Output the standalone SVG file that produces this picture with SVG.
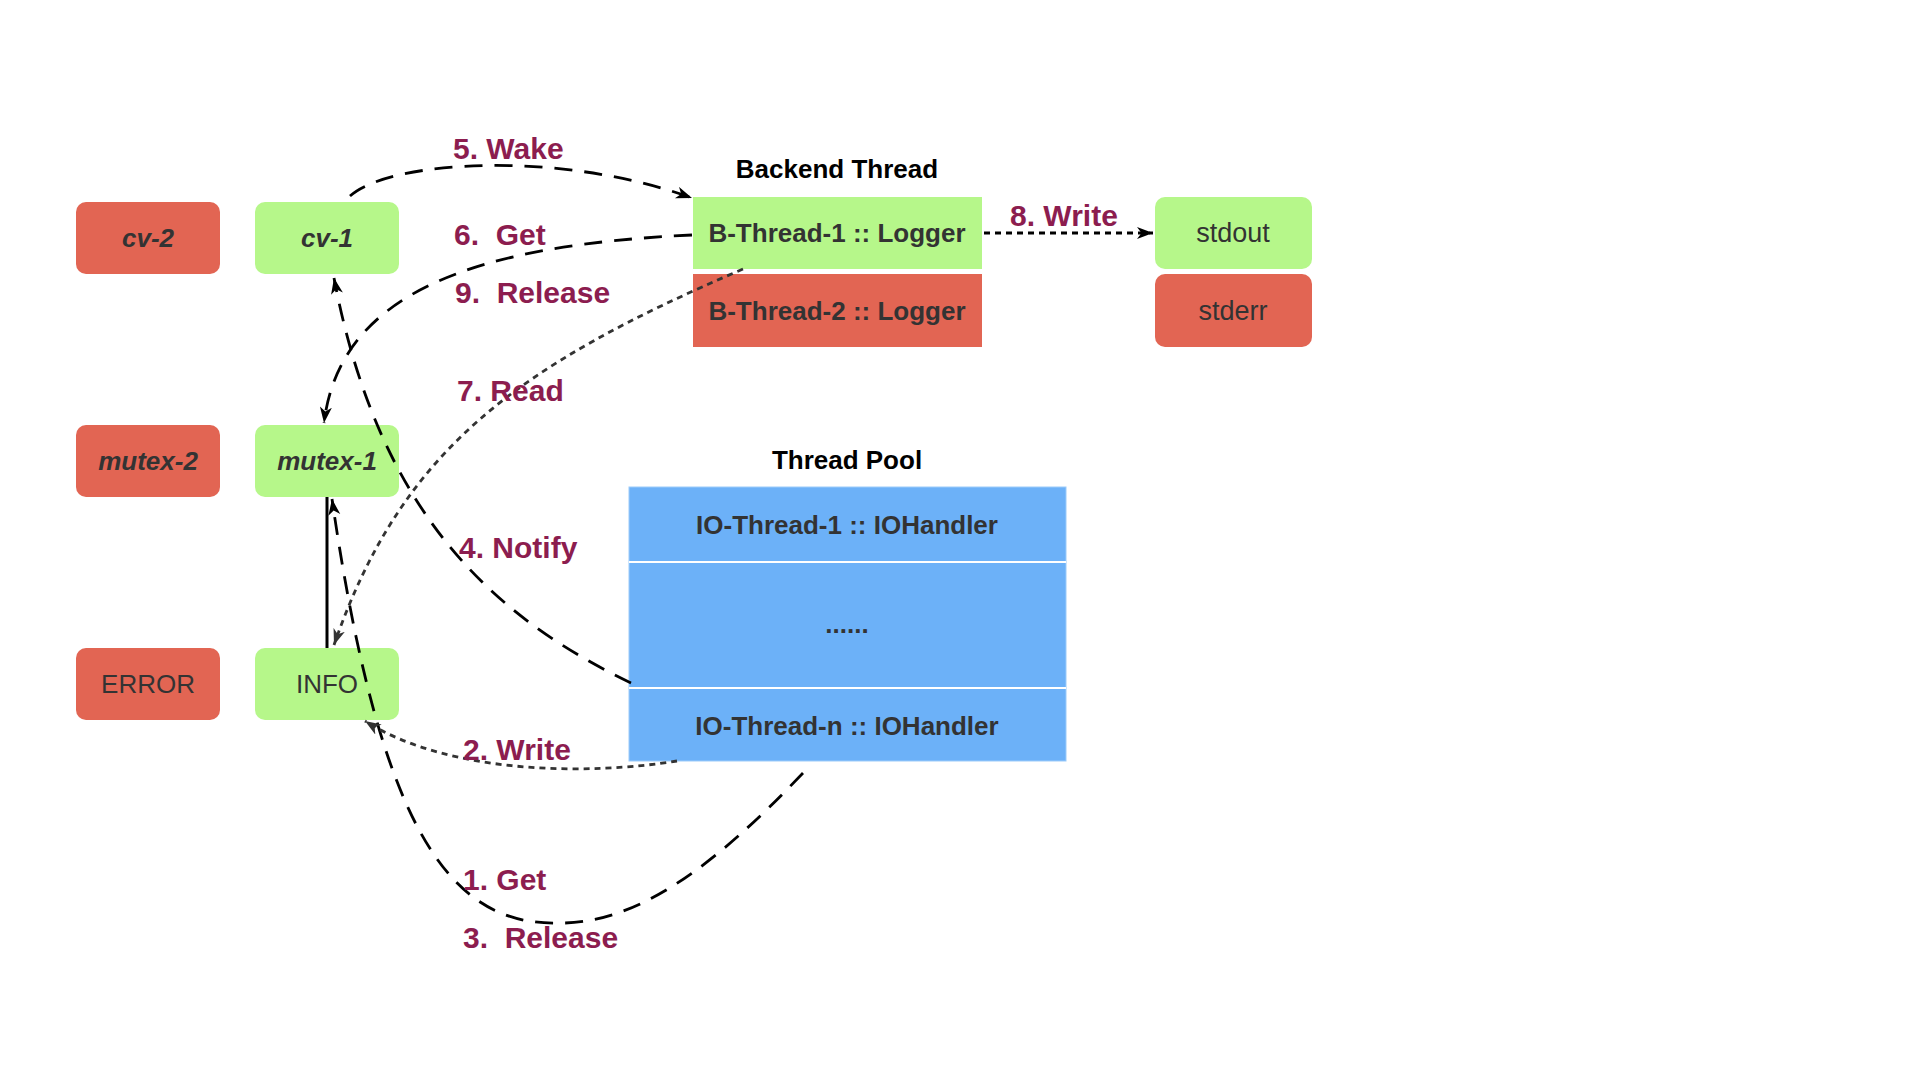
<svg xmlns="http://www.w3.org/2000/svg" width="1920" height="1080" viewBox="0 0 1920 1080">
<defs>
<style>
.g{fill:#B6F78A}
.r{fill:#E26553}
.b{fill:#6CB1F8}
.t{font-family:"Liberation Sans",Arial,sans-serif;font-size:26px;fill:#333;text-anchor:middle}
.bd{font-weight:bold}
.it{font-style:italic;font-weight:bold}
.rg{font-size:27px}
.h{font-family:"Liberation Sans",Arial,sans-serif;font-size:26px;font-weight:bold;fill:#000;text-anchor:middle}
.lb{font-family:"Liberation Sans",Arial,sans-serif;font-size:30px;font-weight:bold;fill:#8C1D4F;white-space:pre}
.dash{fill:none;stroke:#000;stroke-width:2.8;stroke-dasharray:18 12}
.dot{fill:none;stroke:#333;stroke-width:2.8;stroke-dasharray:6 5}
.solid{fill:none;stroke:#000;stroke-width:3}
</style>
<marker id="ah" markerUnits="userSpaceOnUse" markerWidth="18" markerHeight="14" refX="16" refY="6" orient="auto">
<path d="M0,0 L16,6 L0,12 L4.5,6 z" fill="#000"/>
</marker>
<marker id="ahg" markerUnits="userSpaceOnUse" markerWidth="18" markerHeight="14" refX="16" refY="6" orient="auto">
<path d="M0,0 L16,6 L0,12 L4.5,6 z" fill="#333"/>
</marker>
</defs>
<rect width="1920" height="1080" fill="#fff"/>

<g id="cv-2"><rect class="r" x="76" y="202" width="144" height="72" rx="10"/><text class="t it" x="148" y="247">cv-2</text></g>
<g id="cv-1"><rect class="g" x="255" y="202" width="144" height="72" rx="10"/><text class="t it" x="327" y="247">cv-1</text></g>
<g id="mutex-2"><rect class="r" x="76" y="425" width="144" height="72" rx="10"/><text class="t it" x="148" y="470">mutex-2</text></g>
<g id="mutex-1"><rect class="g" x="255" y="425" width="144" height="72" rx="10"/><text class="t it" x="327" y="470">mutex-1</text></g>
<g id="error"><rect class="r" x="76" y="648" width="144" height="72" rx="10"/><text class="t" x="148" y="693">ERROR</text></g>
<g id="info"><rect class="g" x="255" y="648" width="144" height="72" rx="10"/><text class="t" x="327" y="693">INFO</text></g>

<g id="backend">
<text class="h" x="837" y="178">Backend Thread</text>
<g id="b-thread-1"><rect class="g" x="693" y="197" width="289" height="72"/><text class="t bd" x="837" y="242">B-Thread-1 :: Logger</text></g>
<g id="b-thread-2"><rect class="r" x="693" y="274" width="289" height="73"/><text class="t bd" x="837" y="320">B-Thread-2 :: Logger</text></g>
</g>

<g id="stdout"><rect class="g" x="1155" y="197" width="157" height="72" rx="10"/><text class="t rg" x="1233" y="242">stdout</text></g>
<g id="stderr"><rect class="r" x="1155" y="274" width="157" height="73" rx="10"/><text class="t rg" x="1233" y="320">stderr</text></g>

<g id="thread-pool">
<text class="h" x="847" y="469">Thread Pool</text>
<rect class="b" x="629" y="487" width="437" height="274" stroke="#9CCBFA" stroke-width="1"/>
<line x1="629" y1="562" x2="1066" y2="562" stroke="#fff" stroke-width="2"/>
<line x1="629" y1="688" x2="1066" y2="688" stroke="#fff" stroke-width="2"/>
<g id="io-thread-1"><text class="t bd" x="847" y="534">IO-Thread-1 :: IOHandler</text></g>
<g id="io-thread-more"><text class="t bd" x="847" y="633">......</text></g>
<g id="io-thread-n"><text class="t bd" x="847" y="735">IO-Thread-n :: IOHandler</text></g>
</g>

<g id="connectors">
<path class="dash" d="M350,196 C390,160 560,150 692,198" marker-end="url(#ah)"/>
<path class="dash" d="M692,235 C480,245 340,290 324,423" marker-end="url(#ah)"/>
<path class="dash" d="M631,683 C500,620 380,520 334,278" marker-end="url(#ah)"/>
<path class="dot" d="M743,269 C519,365 402,448 334,645" marker-end="url(#ahg)"/>
<path class="solid" d="M327,648 L327,497"/>
<path class="dash" d="M803,773 C720,860 640,925 557,923 C450,925 380,830 332,499" marker-end="url(#ah)"/>
<path class="dot" d="M677,761 C590,775 450,775 365,721" marker-end="url(#ahg)"/>
<path class="dot" d="M984,233 L1153,233" marker-end="url(#ah)" style="stroke:#000"/>
</g>

<g id="labels">
<text class="lb" x="453" y="159">5. Wake</text>
<text class="lb" x="454" y="245">6.  Get</text>
<text class="lb" x="455" y="303">9.  Release</text>
<text class="lb" x="457" y="401">7. Read</text>
<text class="lb" x="459" y="558">4. Notify</text>
<text class="lb" x="463" y="760">2. Write</text>
<text class="lb" x="463" y="890">1. Get</text>
<text class="lb" x="463" y="948">3.  Release</text>
<text class="lb" x="1010" y="226">8. Write</text>
</g>
</svg>
